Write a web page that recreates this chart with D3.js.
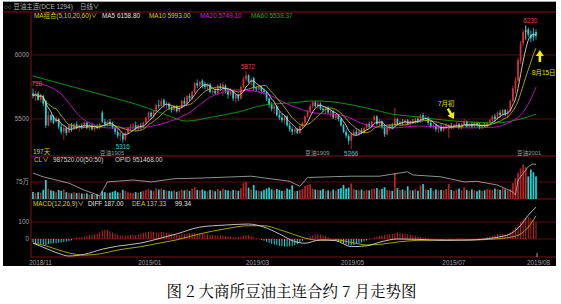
<!DOCTYPE html>
<html>
<head>
<meta charset="utf-8">
<script src="https://cdn.jsdelivr.net/npm/d3@7"></script>
<style>
  body { margin: 0; background: #fff; }
  svg text { font-family: "Liberation Sans", Arial, "Noto Sans CJK SC", sans-serif; }
</style>
</head>
<body>
<svg id="chart" width="561" height="304"></svg>
<script>
// daily bars, [open, high, low, close]
var candles = [
  [5700,5738,5660,5680],[5680,5720,5640,5700],[5700,5715,5640,5650],[5650,5700,5630,5690],[5680,5690,5600,5620],
  [5640,5650,5430,5450],[5450,5560,5440,5530],[5530,5540,5470,5490],[5520,5530,5460,5470],[5480,5520,5470,5510],
  [5500,5510,5420,5440],[5440,5460,5380,5400],[5400,5450,5340,5430],[5430,5440,5370,5390],[5400,5460,5390,5450],
  [5450,5470,5400,5420],[5420,5470,5410,5460],[5460,5480,5420,5430],[5430,5460,5400,5450],[5450,5470,5420,5440],
  [5440,5480,5430,5470],[5470,5480,5420,5430],[5430,5460,5410,5450],[5450,5470,5410,5420],[5420,5450,5400,5440],
  [5440,5460,5420,5430],[5430,5470,5420,5460],[5550,5565,5470,5480],[5480,5500,5440,5460],[5460,5490,5440,5480],
  [5480,5500,5450,5460],[5460,5480,5420,5430],[5430,5450,5380,5400],[5400,5420,5350,5370],[5370,5400,5330,5390],
  [5380,5390,5316,5340],[5340,5400,5330,5390],[5390,5440,5380,5430],[5430,5460,5410,5440],[5440,5470,5420,5450],
  [5450,5480,5410,5420],[5420,5460,5410,5450],[5450,5470,5420,5440],[5440,5480,5430,5470],[5470,5520,5460,5510],
  [5510,5560,5490,5550],[5550,5560,5500,5520],[5520,5570,5510,5560],[5560,5620,5550,5610],[5610,5650,5580,5600],
  [5600,5660,5590,5640],[5650,5660,5590,5610],[5610,5640,5580,5620],[5620,5630,5570,5590],[5590,5600,5550,5570],
  [5570,5610,5560,5600],[5600,5610,5550,5560],[5560,5600,5550,5590],[5590,5650,5580,5640],[5640,5670,5600,5620],
  [5620,5690,5610,5680],[5680,5700,5640,5660],[5660,5720,5650,5710],[5710,5790,5700,5780],[5780,5810,5740,5760],
  [5760,5800,5750,5790],[5800,5810,5740,5760],[5770,5790,5730,5750],[5750,5780,5720,5770],[5770,5780,5700,5710],
  [5710,5730,5690,5720],[5720,5740,5690,5700],[5700,5770,5690,5760],[5760,5780,5730,5740],[5740,5790,5680,5770],
  [5760,5770,5700,5720],[5720,5730,5660,5690],[5690,5740,5680,5720],[5720,5730,5640,5660],[5660,5700,5630,5690],
  [5690,5700,5640,5660],[5660,5760,5650,5750],[5750,5830,5740,5810],[5810,5872,5790,5840],[5840,5850,5780,5790],
  [5790,5820,5760,5800],[5820,5830,5720,5740],[5740,5760,5710,5730],[5730,5760,5700,5750],[5750,5760,5700,5720],
  [5720,5740,5690,5710],[5710,5720,5640,5660],[5660,5670,5590,5610],[5610,5630,5560,5580],[5580,5610,5540,5600],
  [5600,5610,5520,5530],[5530,5560,5490,5510],[5510,5540,5470,5490],[5490,5530,5460,5520],[5520,5530,5440,5450],
  [5450,5470,5400,5420],[5420,5440,5375,5400],[5400,5430,5380,5420],[5420,5430,5380,5390],[5390,5450,5380,5440],
  [5440,5480,5430,5470],[5470,5530,5460,5520],[5520,5570,5510,5560],[5560,5620,5550,5600],[5600,5640,5580,5630],
  [5630,5640,5590,5600],[5600,5640,5580,5620],[5620,5630,5570,5580],[5580,5600,5550,5570],[5570,5600,5540,5590],
  [5590,5600,5540,5550],[5550,5580,5520,5560],[5560,5570,5500,5510],[5510,5540,5490,5530],[5530,5540,5480,5500],
  [5500,5510,5440,5450],[5450,5460,5390,5400],[5400,5420,5350,5370],[5370,5380,5300,5330],[5330,5400,5266,5380],
  [5380,5420,5360,5400],[5400,5430,5370,5380],[5380,5420,5370,5410],[5410,5430,5380,5390],[5390,5440,5380,5430],
  [5430,5470,5410,5460],[5460,5480,5430,5440],[5440,5490,5430,5480],[5490,5530,5480,5520],[5520,5530,5450,5460],
  [5460,5500,5440,5480],[5480,5490,5420,5440],[5440,5460,5360,5380],[5380,5440,5370,5430],[5430,5460,5410,5450],
  [5450,5470,5420,5440],[5450,5590,5440,5500],[5500,5510,5450,5460],[5460,5490,5440,5480],[5480,5500,5450,5470],
  [5470,5500,5460,5490],[5490,5500,5450,5460],[5460,5490,5440,5480],[5480,5500,5460,5470],[5470,5510,5460,5500],
  [5500,5520,5470,5480],[5480,5540,5470,5530],[5530,5550,5490,5500],[5500,5530,5480,5510],[5510,5520,5450,5470],
  [5470,5490,5430,5440],[5440,5470,5420,5450],[5450,5460,5400,5420],[5420,5450,5390,5440],[5440,5460,5400,5410],
  [5410,5450,5400,5440],[5440,5470,5420,5450],[5420,5460,5350,5450],[5450,5470,5420,5430],[5430,5460,5420,5450],
  [5450,5480,5430,5460],[5460,5470,5420,5430],[5430,5470,5420,5460],[5460,5500,5450,5480],[5480,5490,5430,5440],
  [5440,5470,5430,5460],[5460,5480,5430,5440],[5440,5480,5430,5470],[5470,5480,5440,5450],[5450,5470,5420,5430],
  [5430,5460,5420,5450],[5450,5470,5430,5440],[5440,5480,5430,5470],[5470,5500,5460,5490],[5490,5530,5480,5520],
  [5520,5540,5480,5500],[5500,5560,5490,5550],[5550,5570,5510,5530],[5530,5580,5520,5570],[5570,5580,5520,5540],
  [5540,5580,5510,5560],[5560,5650,5550,5640],[5640,5760,5630,5740],[5740,5830,5700,5800],[5800,5980,5790,5960],
  [5950,6110,5930,6090],[6090,6200,6070,6180],[6190,6230,6120,6190],[6200,6215,6140,6160],[6160,6190,6100,6130],
  [6170,6210,6110,6140],[6180,6200,6120,6150]
];

// volume, in 万手
var volumes = [
  31,26,30,28,40,84,45,38,35,30, 40,36,42,30,28,25,30,26,28,24,
  22,25,20,22,18,20,15,35,30,26, 28,32,36,30,28,40,35,30,28,26,
  30,28,32,35,40,45,38,36,48,42, 46,40,38,36,34,38,32,35,40,38,
  42,36,45,52,40,38,42,36,34,40, 38,34,44,36,46,40,38,35,40,38,
  36,48,70,75,50,42,62,38,36,34, 40,46,50,42,38,44,40,36,38,46,
  42,60,34,36,40,44,58,62,65,46, 42,40,38,44,36,38,34,42,36,44,
  48,62,46,50,68,44,40,38,42,36, 40,38,44,46,48,42,45,52,40,38,
  36,115,48,40,42,38,56,40,38,44, 36,60,66,44,40,48,36,42,38,40,
  38,44,66,40,36,42,46,38,52,40, 36,42,38,34,40,36,38,44,42,40,
  46,44,40,48,42,38, 45,70,92,115,135,152,140,100,130,118,100
];

// open interest (万手), [bar, value]
var openInt = [
  [0,81],[4,75],[14,65],[20,54],[26,45],[29,67],[39,70],[46,67],[55,72],[65,73],
  [85,76],[100,68],[104,60],[107,74],[124,76],[135,76],[146,83],[148,78],[159,75],
  [168,67],[173,68],[181,62],[187,51],[188,46],[189,70],[193,91],[194.5,95],[196,95]
];

// moving averages, [bar, value]
var ma20 = [
  [0,5789],[10,5711],[20,5492],[30,5430],[40,5430],[50,5461],[60,5539],[70,5680],
  [80,5727],[90,5703],[100,5609],[110,5547],[120,5531],[130,5453],[140,5430],[150,5445],
  [160,5437],[170,5430],[180,5437],[186,5477],[190,5531],[193,5617],[196,5749]
];
var ma60 = [
  [0,5836],[10,5781],[20,5727],[30,5672],[40,5617],[50,5547],[60,5484],[70,5516],
  [80,5555],[90,5609],[100,5625],[110,5641],[120,5625],[130,5586],[140,5539],[150,5516],
  [160,5492],[170,5477],[180,5469],[190,5500],[196,5538]
];

// MACD(12,26,9)
var diffLine = [
  [0,-24],[5,-55],[10,-85],[14,-100],[20,-90],[27,-60],[33,-42],[42,-24],[50,6],[56,30],
  [65,70],[75,82],[84,88],[90,70],[96,30],[102,-15],[106,-25],[112,-5],[118,-10],[124,-45],
  [130,-40],[136,-15],[142,0],[150,-2],[160,-8],[170,-6],[180,8],[186,30],[190,80],[193,140],[196,187]
];
var deaLine = [
  [0,-24],[5,-40],[10,-65],[14,-82],[20,-95],[27,-85],[33,-65],[42,-45],[50,-22],[56,-5],
  [65,30],[75,60],[84,78],[90,78],[96,55],[102,25],[106,5],[112,-8],[118,-5],[124,-20],
  [130,-35],[136,-30],[142,-18],[150,-8],[160,-6],[170,-6],[180,0],[186,10],[190,30],[193,70],[196,137]
];
var macdBars = [
  -20,-25,-28,-30,-32,-35,-30,-28,-25,-25,-22,-20,-18,-15,-12,-8,
  5,8,10,12,15,18,22,25,28,32,
  40,50,55,52,45,38,30,
  25,22,20,18,22,25,24,22,
  28,32,36,40,42,45,42,40,38,42,
  40,38,35,30,28,25,24,28,30,32,
  35,36,34,30,32,30,
  28,26,24,25,22,20,22,20,18,16,14,12,10,12,15,20,24,22,18,
  10,5,0,-5,-10,-16,-22,-28,-32,-36,-40,-42,-44,-45,-42,-40,-36,-30,
  -20,-10,0,8,15,22,26,28,26,22,18,12,
  5,-2,-8,-14,-20,-26,-32,-36,-38,-35,-30,-25,-20,
  -14,-8,-2,4,10,14,18,20,24,26,28,30,
  34,38,36,32,30,28,26,24,20,16,12,10,8,6,4,
  2,-2,-4,-6,-5,-4,-3,-2,0,2,3,2,1,-1,-2,0,2,3,4,5,
  8,12,16,20,24,28,30,28,26,30,
  40,55,70,85,100,115,125,130,120,110,99
];

var priceTicks = [5500, 6000];
var volTicks = [75];
var macdTicks = [0, 100];
var dateTicks = [-1.5, 41, 83, 120, 159.5, 192.5];
var dateLabels = ["2018/11", "2019/01", "2019/03", "2019/05", "2019/07", "2019/08"];

// high / low marks
var highMarks = [[0, 5738], [83, 5872], [193, 6230]];
var lowMarks = [[35, 5316], [124, 5266]];
var contracts = [[26, "豆油1905"], [106, "豆油1909"], [188.5, "豆油2001"]];

var RED = "#d83232", CYAN = "#22d4d4", GRID = "#5e0c0c", AXIS = "#7a1212";
var FS = 6.4;

var svg = d3.select("#chart");
var N = candles.length;

var x = d3.scaleLinear().domain([0, N - 1]).range([33, 536]);
var yPrice = d3.scaleLinear().domain([5500, 6000]).range([119, 55]);
var yVol = d3.scaleLinear().domain([0, 75]).range([199, 182]);
var yOi = d3.scaleLinear().domain([40, 100]).range([199, 161]);
var yMacd = d3.scaleLinear().domain([0, 100]).range([239, 222]);

function dirColor(d) {
    if (d[3] > d[0]) return RED;
    if (d[3] < d[0]) return CYAN;
    return "#e8e8e8";
}

// background
svg.append("rect").attr("x", 3).attr("y", 2).attr("width", 553).attr("height", 264).attr("fill", "#000");
svg.append("line").attr("x1", 3).attr("x2", 556).attr("y1", 1.5).attr("y2", 1.5).attr("stroke", "#a8a8a8");

var defs = svg.append("defs");
defs.append("clipPath").attr("id", "pc").append("rect").attr("x", 31.5).attr("y", 12).attr("width", 525).attr("height", 144);
defs.append("clipPath").attr("id", "vc").append("rect").attr("x", 31.5).attr("y", 156).attr("width", 525).attr("height", 43);
defs.append("clipPath").attr("id", "mc").append("rect").attr("x", 31.5).attr("y", 199).attr("width", 525).attr("height", 58);

// grid lines
priceTicks.forEach(function(t) {
    svg.append("line").attr("x1", 31).attr("x2", 556).attr("y1", yPrice(t)).attr("y2", yPrice(t)).attr("stroke", GRID);
    svg.append("text").attr("x", 29).attr("y", yPrice(t) + 2.2).attr("text-anchor", "end")
        .attr("font-size", FS).attr("fill", "#a0a0a0").text(t);
});
volTicks.forEach(function(t) {
    svg.append("line").attr("x1", 31).attr("x2", 556).attr("y1", yVol(t)).attr("y2", yVol(t)).attr("stroke", GRID);
    svg.append("text").attr("x", 29).attr("y", yVol(t) + 2.2).attr("text-anchor", "end")
        .attr("font-size", FS).attr("fill", "#a0a0a0").text(t + "万");
});
macdTicks.forEach(function(t) {
    svg.append("line").attr("x1", 31).attr("x2", 556).attr("y1", yMacd(t)).attr("y2", yMacd(t)).attr("stroke", GRID);
    svg.append("text").attr("x", 29).attr("y", yMacd(t) + 2.2).attr("text-anchor", "end")
        .attr("font-size", FS).attr("fill", "#a0a0a0").text(t);
});

// panel frame
svg.append("line").attr("x1", 3).attr("x2", 556).attr("y1", 12).attr("y2", 12).attr("stroke", AXIS);
[156, 199, 257].forEach(function(yy) {
    svg.append("line").attr("x1", 31).attr("x2", 556).attr("y1", yy).attr("y2", yy).attr("stroke", AXIS);
});
svg.append("line").attr("x1", 31).attr("x2", 31).attr("y1", 12).attr("y2", 257).attr("stroke", AXIS);

// ---- price panel ----
var pg = svg.append("g").attr("clip-path", "url(#pc)");

pg.selectAll(".wick").data(candles).enter().append("line")
    .attr("x1", function(d, i) { return x(i); })
    .attr("x2", function(d, i) { return x(i); })
    .attr("y1", function(d) { return yPrice(d[1]); })
    .attr("y2", function(d) { return yPrice(d[2]); })
    .attr("stroke", dirColor)
    .attr("stroke-width", 0.8);

pg.selectAll(".body").data(candles).enter().append("rect")
    .attr("x", function(d, i) { return x(i) - 0.85; })
    .attr("width", 1.7)
    .attr("y", function(d) { return yPrice(Math.max(d[0], d[3])); })
    .attr("height", function(d) { return Math.max(0.8, Math.abs(yPrice(d[0]) - yPrice(d[3]))); })
    .attr("fill", dirColor);

var closes = candles.map(function(d) { return d[3]; });
function movingAvg(n) {
    return closes.map(function(c, i) {
        return [i, d3.mean(closes.slice(Math.max(0, i - n + 1), i + 1))];
    });
}

var priceLine = d3.line()
    .x(function(d) { return x(d[0]); })
    .y(function(d) { return yPrice(d[1]); })
    .curve(d3.curveMonotoneX);

pg.append("path").attr("d", priceLine(ma60)).attr("fill", "none").attr("stroke", "#12a012").attr("stroke-width", 0.9);
pg.append("path").attr("d", priceLine(ma20)).attr("fill", "none").attr("stroke", "#c814c8").attr("stroke-width", 0.9);
pg.append("path").attr("d", priceLine(movingAvg(10))).attr("fill", "none").attr("stroke", "#b4b400").attr("stroke-width", 0.9);
pg.append("path").attr("d", priceLine(movingAvg(5))).attr("fill", "none").attr("stroke", "#d8d8d8").attr("stroke-width", 0.9);

highMarks.forEach(function(m) {
    pg.append("text").attr("x", x(m[0]) + 2).attr("y", yPrice(m[1]) - 2.5).attr("text-anchor", "middle")
        .attr("font-size", FS).attr("fill", "#e04646").text(m[1]);
});
lowMarks.forEach(function(m) {
    pg.append("text").attr("x", x(m[0])).attr("y", yPrice(m[1]) + 6.8).attr("text-anchor", "middle")
        .attr("font-size", FS).attr("fill", CYAN).text(m[1]);
});
contracts.forEach(function(c) {
    svg.append("text").attr("x", x(c[0])).attr("y", 154.5)
        .attr("font-size", FS - 0.6).attr("fill", "#9a9a9a").text(c[1]);
});
svg.append("text").attr("x", 33).attr("y", 154).attr("font-size", FS).attr("fill", "#d2d200").text("197天");

// annotations
var arrowShape = "M-1.3,-12 L1.3,-12 L1.3,-6 L4,-6 L0,0 L-4,-6 L-1.3,-6 Z";
svg.append("path").attr("d", arrowShape).attr("fill", "#f0f000")
    .attr("transform", "translate(" + x(164) + "," + yPrice(5500) + ") rotate(-30)");
svg.append("text").attr("x", 438).attr("y", 106).attr("font-size", FS).attr("fill", "#e6e600").text("7月初");

svg.append("path").attr("d", arrowShape).attr("fill", "#f0f000")
    .attr("transform", "translate(" + x(197.5) + "," + yPrice(6040) + ") rotate(180)");
svg.append("text").attr("x", 532).attr("y", 75).attr("font-size", FS).attr("fill", "#e6e600").text("8月15日");

// ---- volume panel ----
var vg = svg.append("g").attr("clip-path", "url(#vc)");
vg.selectAll(".vol").data(volumes).enter().append("rect")
    .attr("x", function(d, i) { return x(i) - 0.85; })
    .attr("width", 1.7)
    .attr("y", function(d) { return yVol(d); })
    .attr("height", function(d) { return yVol(0) - yVol(d); })
    .attr("fill", function(d, i) { return candles[i][3] >= candles[i][0] ? "#b82424" : CYAN; });

vg.append("path")
    .attr("d", d3.line().x(function(d) { return x(d[0]); }).y(function(d) { return yOi(d[1]); })(openInt))
    .attr("fill", "none").attr("stroke", "#b4b4b4").attr("stroke-width", 0.8);

// ---- MACD panel ----
var mg = svg.append("g").attr("clip-path", "url(#mc)");
mg.selectAll(".mb").data(macdBars).enter().append("rect")
    .attr("x", function(d, i) { return x(i) - 0.5; })
    .attr("width", 1)
    .attr("y", function(d) { return Math.min(yMacd(d), yMacd(0)); })
    .attr("height", function(d) { return Math.abs(yMacd(d) - yMacd(0)); })
    .attr("fill", function(d) { return d >= 0 ? "#c42020" : CYAN; });

var macdLine = d3.line()
    .x(function(d) { return x(d[0]); })
    .y(function(d) { return yMacd(d[1]); })
    .curve(d3.curveMonotoneX);
mg.append("path").attr("d", macdLine(deaLine)).attr("fill", "none").attr("stroke", "#b4b400").attr("stroke-width", 0.9);
mg.append("path").attr("d", macdLine(diffLine)).attr("fill", "none").attr("stroke", "#d4d4d4").attr("stroke-width", 0.9);

// date axis
dateTicks.forEach(function(t, i) {
    svg.append("text").attr("x", x(t)).attr("y", 264.5)
        .attr("font-size", FS).attr("fill", "#a0a0a0").text(dateLabels[i]);
});
svg.append("line").attr("x1", x(N - 1) + 1).attr("x2", x(N - 1) + 1).attr("y1", 253).attr("y2", 257)
    .attr("stroke", "#c8c8c8").attr("stroke-width", 0.8);

// legends
function legend(items, yy) {
    items.forEach(function(it) {
        svg.append("text").attr("x", it[0]).attr("y", yy).attr("font-size", FS).attr("fill", it[2]).text(it[1]);
    });
}
legend([[4, "○○ 豆油主连(DCE 1294)", "#b8b8b8"], [80, "日线∨", "#b8b8b8"]], 9);
legend([[34, "MA组合(5,10,20,60)∨", "#d2d200"], [102, "MA5 6158.80", "#e0e0e0"],
        [149, "MA10 5993.00", "#d2d200"], [200, "MA20 5749.10", "#d020d0"], [251, "MA60 5538.37", "#18b018"]], 17.5);
legend([[34, "CL∨", "#d2d200"], [53, "987520.00(50:50)", "#d8d8d8"], [115, "OPID 951468.00", "#d8d8d8"]], 162);
legend([[33, "MACD(12,26,9)∨", "#d2d200"], [88, "DIFF 187.00", "#e0e0e0"],
        [132, "DEA 137.33", "#d2d200"], [175, "99.34", "#e0e0e0"]], 205.5);

// caption
svg.append("text").attr("x", 291.5).attr("y", 297).attr("text-anchor", "middle")
    .attr("font-size", 15.5).attr("fill", "#000")
    .style("font-family", "'Noto Serif CJK SC', 'Noto Sans CJK SC', sans-serif")
    .text("图 2 大商所豆油主连合约 7 月走势图");
</script>
</body>
</html>
